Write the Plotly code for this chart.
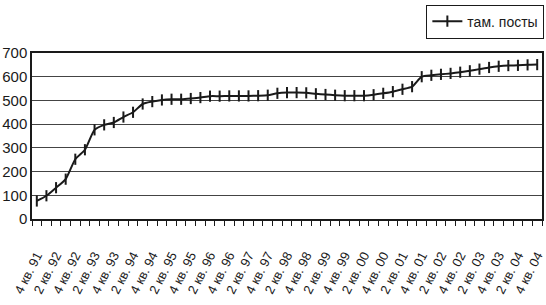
import plotly.graph_objects as go

# Quarter categories: 4th quarter 1991 .. 4th quarter 2004
categories = ["4 кв. 91"] + [f"{q} кв. {y % 100:02d}" for y in range(1992, 2005) for q in (1, 2, 3, 4)]

# Number of customs posts
posts = [76, 98, 132, 168, 252, 292, 376, 397, 407, 430,
         450, 485, 495, 502, 505, 505, 508, 512, 518, 518,
         519, 519, 519, 520, 522, 530, 533, 533, 532, 528,
         525, 522, 520, 520, 520, 524, 530, 537, 547, 558,
         600, 606, 610, 614, 619, 625, 632, 639, 644, 647,
         648, 650, 651]

# Only every second quarter is labelled
tick_text = [c if i % 2 == 0 else "" for i, c in enumerate(categories)]
y_ticks = [0, 100, 200, 300, 400, 500, 600, 700]

FONT = "Liberation Sans, Arial, sans-serif"
INK = "#1a1a1a"

fig = go.Figure(
    go.Scatter(
        x=categories,
        y=posts,
        mode="lines+markers",
        name="там. посты",
        line=dict(color=INK, width=2, shape="spline", smoothing=0.6),
        marker=dict(symbol="line-ns-open", size=8,
                    line=dict(color=INK, width=2), color=INK),
    )
)

fig.update_layout(
    width=546,
    height=305,
    margin=dict(l=32, r=4, t=53, b=86, autoexpand=False),
    paper_bgcolor="white",
    plot_bgcolor="white",
    font=dict(family=FONT, color=INK, size=14),
    showlegend=True,
    legend=dict(
        x=0.997, y=0.985, xref="container", yref="container",
        xanchor="right", yanchor="top",
        bordercolor=INK, borderwidth=1,
        font=dict(size=14, family=FONT),
        itemwidth=30,
        tracegroupgap=0,
    ),
)

fig.update_xaxes(
    type="category",
    categoryorder="array",
    categoryarray=categories,
    range=[-0.5, len(categories) - 0.5],
    tickvals=categories,
    ticktext=tick_text,
    tickson="boundaries",
    ticks="outside",
    ticklen=5,
    tickcolor=INK,
    tickangle=-63,
    ticklabelstandoff=22,
    tickfont=dict(size=13, family=FONT, color=INK),
    showline=True,
    linecolor=INK,
    linewidth=1.5,
    mirror=True,
    showgrid=False,
    zeroline=False,
)

fig.update_yaxes(
    range=[0, 700],
    tickvals=y_ticks,
    ticks="",
    tickfont=dict(size=15, family=FONT, color=INK),
    showline=True,
    linecolor=INK,
    linewidth=1.5,
    mirror=True,
    showgrid=True,
    gridcolor="#444444",
    gridwidth=1,
    zeroline=False,
)

fig.write_html("out.html")
